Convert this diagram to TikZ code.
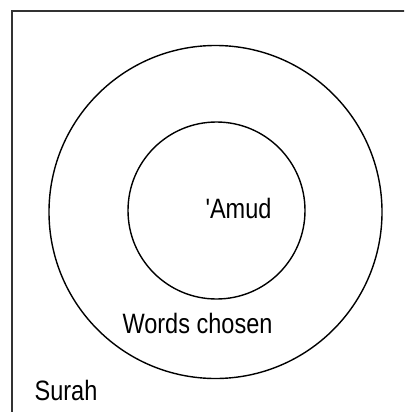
\documentclass[tikz,border=0pt]{standalone}
\usepackage{fontspec}
\setmainfont{Liberation Sans}[FakeStretch=0.84,Ligatures=TeXOff]
\begin{document}
\begin{tikzpicture}[x=1pt,y=-1pt]
\useasboundingbox (0,0) rectangle (404,412);
\begin{scope}
\clip (0,0) rectangle (404,412);
\draw[line width=1.8pt,black!80] (12,11) rectangle (430,440);
\end{scope}
\node[draw,circle,line width=1.4pt,minimum size=333pt,inner sep=0pt] (outer) at (215.5,212) {};
\node[draw,circle,line width=1.4pt,minimum size=177pt,inner sep=0pt] (inner) at (216.5,210.5) {};
\node[font=\fontsize{28}{30}\selectfont,anchor=base,inner sep=0pt] (amud) at (238.5,218) {'Amud};
\node[font=\fontsize{28}{30}\selectfont,anchor=base,inner sep=0pt] (words) at (197.5,333) {Words chosen};
\node[font=\fontsize{28}{30}\selectfont,anchor=base,inner sep=0pt] (surah) at (66,400) {Surah};
\end{tikzpicture}
\end{document}
